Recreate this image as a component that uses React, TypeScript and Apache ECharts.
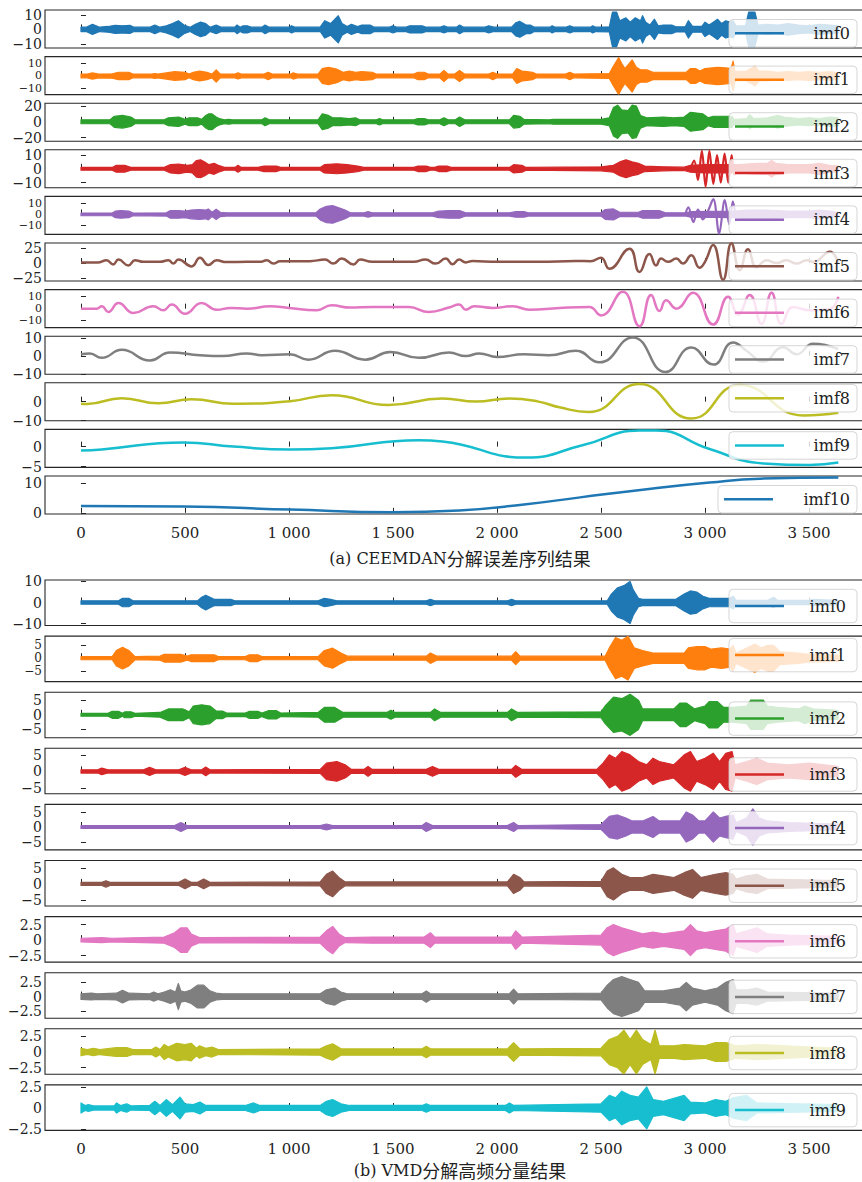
import React, { useEffect, useRef } from "react";
import * as echarts from "echarts";

const FONT = "'DejaVu Serif', 'Noto Sans CJK SC', serif";
const X_MIN = -173;
const X_MAX = 3800;
const X_TICKS = [0, 500, 1000, 1500, 2000, 2500, 3000, 3500];
const TAB = ["#1f77b4", "#ff7f0e", "#2ca02c", "#d62728", "#9467bd", "#8c564b", "#e377c2", "#7f7f7f", "#bcbd22", "#17becf", "#1f77b4"];

type Pts = [number, number][];

// ---------- (a) CEEMDAN: envelopes [x, amplitude] of dense components ----------
const A_IMF0: Pts = [[0,1.5],[25,1.5],[55,3.5],[90,1.5],[130,2],[165,2.8],[200,2.5],[235,2.8],[255,1.5],[330,1.5],[355,3],[380,1.5],[410,2.5],[440,4],[468,6],[495,3],[525,1.5],[550,3.5],[575,5],[600,4],[620,1.5],[650,3],[675,1.5],[740,1.5],[750,3],[765,1.5],[780,2.5],[800,2.5],[820,1.5],[870,1.5],[885,3],[905,1.5],[1000,1.5],[1012,2.5],[1030,1.5],[1150,1.5],[1172,6],[1200,4],[1237,9.4],[1255,4],[1280,2],[1300,3.5],[1330,2],[1350,3],[1390,3],[1410,1.5],[1480,1.5],[1500,2.5],[1520,1.5],[1560,1.5],[1580,2.5],[1640,2.5],[1660,1.5],[1725,1.5],[1745,2.5],[1765,1.5],[1805,1.5],[1820,3],[1840,1.5],[1940,1.5],[1960,2.5],[1985,1.5],[2070,1.5],[2090,4.5],[2110,5.5],[2140,3],[2160,3],[2180,1.5],[2255,1.5],[2265,2.5],[2280,1.5],[2330,1.5],[2350,2.5],[2370,1.5],[2450,1.5],[2460,2.5],[2475,1.5],[2540,1.8],[2555,12],[2575,12],[2590,6],[2620,8],[2640,5],[2665,8],[2690,6],[2700,9.5],[2715,5],[2735,3],[2757,7],[2775,2.5],[2800,3],[2840,3],[2860,1.8],[2905,1.8],[2920,6],[2940,2],[2985,2],[3000,5],[3020,3],[3040,5],[3060,7],[3080,4],[3100,6],[3120,5],[3135,6],[3150,2.5],[3195,2.5],[3210,12],[3240,12],[3255,3],[3300,3.5],[3350,3],[3400,4],[3450,3],[3500,2.5],[3550,3.5],[3600,3],[3640,2.5]];
const A_IMF1: Pts = [[0,1.5],[30,1.5],[55,2.5],[85,1.5],[150,1.8],[180,3],[230,3],[250,1.5],[340,1.5],[355,2],[370,1.5],[410,2.5],[450,3.5],[500,3],[520,1.5],[540,3],[570,4],[605,3],[630,1.5],[650,5],[670,1.5],[740,1.5],[755,2.5],[770,1.5],[880,1.5],[900,3],[920,1.5],[1010,1.5],[1020,2.5],[1040,1.5],[1140,1.5],[1160,6],[1190,7],[1230,5.5],[1260,3],[1290,4],[1320,3],[1350,3.5],[1400,3],[1420,1.5],[1600,1.5],[1620,3],[1650,3],[1670,1.5],[1725,1.5],[1745,4.5],[1765,1.5],[1795,1.5],[1820,4.5],[1845,1.5],[1960,1.5],[1980,3],[2000,1.5],[2075,1.5],[2095,6],[2120,4],[2145,3.5],[2170,3],[2190,1.5],[2330,1.5],[2350,3],[2370,1.5],[2540,2],[2560,8],[2585,15],[2600,10],[2615,6],[2650,13],[2670,7],[2690,5],[2720,5],[2750,3],[2800,3],[2850,3],[2910,3],[2930,6],[2955,6],[2975,4],[3000,6],[3060,7],[3100,6.5],[3125,6],[3135,12],[3145,3.5],[3200,4],[3240,8],[3260,4],[3300,4],[3350,3],[3400,3.5],[3450,3],[3500,3.5],[3550,3],[3600,3.5],[3640,2.5]];
const A_IMF2: Pts = [[0,2.5],[140,2.5],[160,7],[200,8],[240,6],[260,2.5],[400,2.5],[420,5],[470,6],[500,3],[520,5],[560,5],[580,3],[600,8],[615,10],[630,10],[650,6],[665,4],[690,2.5],[710,3],[730,2.5],[870,2.5],[885,5],[905,2.5],[1140,2.5],[1160,10],[1190,8],[1210,5],[1250,5],[1290,4],[1320,5],[1340,2.5],[1420,2.5],[1435,4],[1450,2.5],[1600,2.5],[1620,4],[1650,4],[1670,2.5],[1725,2.5],[1745,5],[1765,2.5],[1800,2.5],[1820,6],[1845,2.5],[2060,2.5],[2080,8],[2110,7],[2130,3],[2250,2.5],[2270,3],[2500,3],[2540,5],[2560,18],[2580,21],[2600,15],[2630,14],[2650,21],[2670,20],[2690,8],[2720,5],[2800,6],[2850,5],[2900,6],[2930,12],[2960,11],[2990,10],[3015,5],[3040,7],[3100,7],[3130,7],[3140,3],[3200,4],[3215,9],[3235,4],[3300,5],[3350,8],[3380,6],[3450,4],[3500,5],[3550,4],[3600,6],[3640,5]];
const A_IMF3: Pts = [[0,1],[150,1],[170,2.5],[210,2.5],[240,1],[400,1],[430,3],[470,3.5],[510,2.5],[535,3],[555,6],[575,6.5],[595,5],[615,3],[640,4],[660,2.5],[690,1],[740,1],[755,2.5],[770,1],[850,1],[880,2],[940,2],[960,1],[1150,1],[1170,3],[1230,3.6],[1280,3],[1330,2],[1360,1],[1600,1],[1620,2],[1660,2],[1680,1],[1700,1],[1720,2],[1760,2],[1780,1],[2060,1],[2080,3],[2120,2.5],[2140,1],[2500,1.5],[2560,2.5],[2590,5],[2620,6.5],[2650,5],[2680,4],[2710,2],[2800,1.5],[2900,1.2],[2930,2.5],[3000,3],[3140,3],[3160,3],[3250,4],[3300,4],[3320,6],[3340,4],[3400,3],[3500,3],[3550,4],[3600,2.5],[3640,2]];
const A_IMF3_OSC: Pts = [[2930,0],[2948,6],[2966,-8],[2985,13],[3003,-13],[3021,13],[3040,-11],[3058,10],[3076,-10],[3094,11],[3112,-10],[3128,10],[3140,-4],[3150,0]];
const A_IMF4: Pts = [[0,1.2],[150,1.2],[165,3],[190,3.5],[230,3],[250,1.2],[410,1.5],[430,3.5],[470,3.5],[500,3],[530,4],[570,4.5],[600,4],[612,5],[630,2],[650,4.7],[670,2],[700,1.5],[1130,1.5],[1150,5],[1180,7.5],[1210,8],[1240,6],[1270,4],[1295,1.5],[1360,1.5],[1380,2.5],[1400,1.5],[1690,1.5],[1720,3],[1770,3.5],[1820,3.5],[1850,1.5],[2060,1.5],[2090,2.5],[2130,2.5],[2150,1.5],[2500,1.5],[2520,4.5],[2560,5],[2590,2],[2680,2],[2700,3.5],[2780,3.5],[2810,1.5],[2910,1.5],[2930,2.5],[3140,3],[3200,4],[3300,4],[3400,3],[3500,3],[3550,4],[3600,3],[3640,2]];
const A_IMF4_OSC: Pts = [[2905,0],[2920,6.5],[2944,-7],[2966,4.5],[2990,-4.5],[3014,3],[3040,14],[3068,-17.5],[3095,13],[3117,-9],[3134,12],[3146,0]];
// (a) smooth components: [x, value] at turning points
const A_IMF5: Pts = [[0,1],[80,1],[123,4.5],[155,-2.3],[180,5.7],[228,-4],[260,4.5],[300,2],[380,2],[420,4.5],[444,-1],[468,6],[532,-5.7],[572,9],[612,-3.4],[652,4.5],[700,1.5],[800,2],[860,2],[893,4.5],[925,-1],[957,3],[1005,2.8],[1100,3],[1173,5.7],[1213,-1],[1253,7.4],[1310,-2.3],[1342,5.7],[1400,2],[1600,2],[1656,5.7],[1705,-1],[1753,7.4],[1786,-2],[1818,5.7],[1850,1],[1882,3.4],[2000,2],[2200,2],[2379,3.4],[2450,3],[2500,9],[2540,-9.7],[2637,24],[2685,-15],[2733,15],[2765,-4],[2789,7.4],[2822,2],[2862,7.4],[2894,-1],[2934,13],[2974,-8],[3000,2],[3039,30],[3087,-28],[3127,33],[3167,-12],[3207,23],[3248,-7],[3296,4.5],[3344,0],[3392,4.5],[3440,-1],[3489,4.5],[3521,2],[3601,19],[3640,0]];
const A_IMF6: Pts = [[0,0],[75,0],[100,2],[131,-2.8],[180,4.8],[252,-3.7],[348,2],[396,-1.4],[436,3.4],[500,-4.3],[580,4.8],[652,-0.9],[720,0.6],[800,0],[909,2],[1000,0.6],[1132,-1.4],[1205,2.8],[1294,0.9],[1400,1.4],[1576,1.4],[1673,-2.8],[1769,0.9],[1818,3.4],[1850,-0.9],[1890,2],[1980,0.6],[2076,2],[2156,-0.9],[2300,0.6],[2444,1.4],[2500,-5.7],[2605,14.2],[2685,-14.8],[2741,11.4],[2781,-2],[2813,7],[2862,0],[2942,13.4],[3039,-13.4],[3111,10],[3159,-5],[3215,11.4],[3272,-12.8],[3320,13.4],[3368,-12.8],[3424,1.4],[3505,-1.4],[3601,0],[3641,10]];
const A_IMF7: Pts = [[0,1],[43,1.5],[99,-1],[196,3.5],[332,-2.5],[428,2],[572,0.5],[680,0],[797,1.5],[870,0.5],[1005,1],[1092,-2],[1221,3],[1366,-2],[1487,2.3],[1624,-1],[1769,2],[1850,0],[1915,1.5],[2000,-0.5],[2130,1],[2250,0.5],[2379,3],[2492,-3.5],[2653,10.5],[2810,-9],[2934,4.8],[3040,-4.8],[3135,7.7],[3200,3],[3280,-3],[3376,5],[3440,1],[3520,7],[3640,4]];
const A_IMF8: Pts = [[0,-1.1],[30,-1.2],[196,1.8],[372,-0.9],[532,1.25],[732,-1.1],[1005,0.2],[1205,3.4],[1479,-1.8],[1737,1.6],[1898,0],[2060,1.6],[2200,0],[2300,-3],[2440,-5.5],[2685,9.3],[2934,-8.9],[3167,8.8],[3473,-7.3],[3641,-5.9]];
const A_IMF9: Pts = [[0,-1],[100,-0.7],[492,1.05],[732,0],[1005,-0.7],[1205,-0.4],[1624,1.6],[1737,1.3],[2140,-2.75],[2415,0.4],[2685,4],[2765,4],[3022,-0.6],[3280,-4.2],[3505,-4.6],[3641,-4]];
const A_IMF10: Pts = [[0,2.3],[492,2.1],[1005,1.1],[1495,0.2],[1818,0.8],[2140,2.9],[2400,5.2],[2700,7.8],[3022,10.2],[3264,11.5],[3641,11.9]];

const A_NAMES = ["imf0","imf1","imf2","imf3","imf4","imf5","imf6","imf7","imf8","imf9","imf10"];
const A_DATA = [A_IMF0, A_IMF1, A_IMF2, A_IMF3, A_IMF4, A_IMF5, A_IMF6, A_IMF7, A_IMF8, A_IMF9, A_IMF10];
const A_OSC: (Pts | null)[] = [null, null, null, A_IMF3_OSC, A_IMF4_OSC, null, null, null, null, null, null];
const A_KIND = ["env","env","env","env","env","wave","wave","wave","wave","wave","wave"];
const A_YLIM: [number, number][] = [[-12.9,13.4],[-15.1,15.7],[-24.6,23.5],[-13.8,13.8],[-18.3,16.5],[-30.1,33.5],[-15.9,16],[-10.2,11.2],[-10.1,9.9],[-5.2,4.3],[-0.4,12.4]];
const A_YTICKS = [[-10,0,10],[-10,0,10],[-20,0,20],[-10,0,10],[-10,0,10],[-25,0,25],[-10,0,10],[-10,0,10],[-10,0],[-5,0],[0,10]];

// ---------- (b) VMD: envelopes [x, amplitude] ----------
const B_IMF0: Pts = [[0,0.8],[180,0.8],[200,2],[230,2],[250,0.8],[560,0.8],[580,2.5],[600,3.5],[620,2.5],[640,1.5],[720,1.5],[740,0.8],[1140,0.8],[1170,2],[1200,1.5],[1230,0.8],[1660,0.8],[1680,1.5],[1700,0.8],[2050,0.8],[2070,1.5],[2090,0.8],[2530,0.8],[2550,4],[2580,7],[2610,8],[2640,10],[2655,6],[2680,2],[2700,1.5],[2860,1.5],[2900,4],[2930,5.5],[2960,5],[2990,3],[3020,2],[3120,2],[3135,3],[3150,1],[3300,1],[3330,2.5],[3350,1],[3500,1],[3520,1.5],[3640,1]];
const B_IMF1: Pts = [[0,0.6],[150,0.6],[170,3],[200,4.2],[230,3],[260,0.6],[380,0.8],[400,1.5],[480,1.5],[510,0.8],[530,1.3],[640,1.3],[660,0.6],[790,0.6],[810,1.3],[850,1.3],[870,0.6],[1140,0.6],[1170,3],[1210,3.9],[1250,2],[1280,0.8],[1660,0.8],[1680,2],[1710,0.8],[2070,0.8],[2090,2.5],[2110,0.8],[2520,0.8],[2540,4],[2570,8],[2600,7],[2630,8.5],[2660,4],[2700,3],[2750,2],[2900,2],[2920,4],[2960,4.5],[3000,4.5],[3030,3.5],[3080,4],[3120,3.5],[3135,5],[3150,2],[3200,4],[3240,5.5],[3270,4],[3300,5],[3330,5],[3360,2.5],[3450,2],[3500,1.5],[3640,1.2]];
const B_IMF2: Pts = [[0,0.5],[130,0.5],[150,1.2],[180,1.2],[200,0.5],[210,1],[240,1],[260,0.5],[380,0.8],[420,2],[490,2],[520,1],[540,3],[580,3.4],[620,3],[650,1.3],[680,1.3],[700,0.6],[790,0.6],[810,1.2],[850,1.2],[870,0.6],[900,1.4],[940,1.4],[960,0.6],[1140,0.8],[1170,2.5],[1220,2.5],[1260,0.8],[1470,0.8],[1490,1.5],[1510,0.8],[1680,0.8],[1700,2],[1730,0.8],[2050,0.8],[2070,2],[2100,0.8],[2500,1],[2520,3],[2560,6],[2600,5.5],[2640,7],[2680,5],[2700,2],[2850,2],[2880,4],[2910,4],[2950,2],[3000,3],[3020,4.5],[3060,4.5],[3090,2.5],[3130,2.5],[3200,3],[3220,5],[3280,5],[3300,3],[3350,2.5],[3450,2],[3480,3],[3520,2],[3640,1.5]];
const B_IMF3: Pts = [[0,0.5],[80,0.5],[100,1],[130,0.5],[300,0.5],[330,1.2],[360,0.5],[470,0.5],[500,1.2],[530,0.5],[580,0.5],[600,1.3],[620,0.5],[1150,0.6],[1180,2.5],[1230,3],[1270,2],[1300,0.6],[1360,0.6],[1380,1.5],[1400,0.6],[1660,0.6],[1690,1.5],[1720,0.6],[2070,0.6],[2090,1.8],[2120,0.6],[2480,0.6],[2510,2.5],[2540,5],[2570,4],[2600,6],[2640,5],[2680,3],[2720,2],[2750,4],[2780,3],[2850,2],[2900,5],[2930,6],[2960,3],[3000,4],[3040,5.5],[3070,3],[3100,5.5],[3130,6],[3145,2],[3200,3],[3250,4],[3300,2.5],[3400,2],[3500,2.5],[3640,1.5]];
const B_IMF4: Pts = [[0,0.5],[450,0.5],[480,1.5],[510,0.5],[1150,0.5],[1180,1],[1210,0.5],[1640,0.5],[1660,1.5],[1690,0.5],[2050,0.5],[2080,1.5],[2100,0.5],[2500,0.8],[2540,3.5],[2580,4],[2620,3],[2650,2],[2700,2],[2750,3.5],[2780,2],[2880,2],[2910,5],[2940,4],[2970,2],[3000,2],[3040,5],[3070,3],[3100,3.5],[3135,4],[3150,1.5],[3200,3],[3230,6],[3260,3],[3300,2],[3400,1.5],[3640,1]];
const B_IMF5: Pts = [[0,0.5],[100,0.5],[120,1],[140,0.5],[470,0.5],[500,1.5],[530,0.5],[560,0.5],[590,1.5],[620,0.5],[1150,0.6],[1180,3],[1210,4],[1240,2],[1270,0.6],[2050,0.6],[2080,3],[2110,2],[2130,0.6],[2500,0.8],[2530,4],[2560,5],[2600,3],[2640,2],[2700,2],[2750,3],[2800,2.5],[2850,2],[2900,3.5],[2940,4.5],[2980,2],[3050,3],[3100,3.5],[3135,3],[3150,1.5],[3200,2.5],[3250,3],[3300,1.5],[3640,1]];
const B_IMF6: Pts = [[0,0.3],[100,0.4],[150,0.3],[400,0.5],[450,1.2],[480,2],[510,2],[530,1],[570,0.4],[1150,0.5],[1180,1.5],[1210,2.2],[1240,1],[1270,0.4],[1400,0.5],[1650,0.5],[1680,1.2],[1700,0.5],[2070,0.5],[2090,1.5],[2120,0.5],[2500,0.8],[2530,2],[2560,2.5],[2600,2],[2650,1.5],[2700,1],[2750,1.3],[2800,1],[2900,1.5],[2930,2.5],[2960,1.5],[3000,1.2],[3050,1.5],[3100,1.8],[3135,2.5],[3150,1],[3200,1.5],[3250,2],[3300,1],[3400,0.8],[3640,0.6]];
const B_IMF7: Pts = [[0,0.5],[50,0.6],[80,0.5],[170,0.6],[200,1.1],[230,0.6],[330,0.5],[350,0.8],[370,0.5],[400,0.8],[430,1.2],[455,0.8],[468,2.3],[480,1],[500,0.8],[530,1.2],[560,2],[590,2],[620,1],[650,0.6],[680,0.5],[1150,0.5],[1180,1.2],[1220,1.5],[1250,0.8],[1280,0.5],[1640,0.5],[1660,1],[1680,0.5],[2060,0.5],[2080,1.3],[2100,0.5],[2500,0.6],[2530,2],[2560,3],[2600,3.5],[2640,3],[2680,2.5],[2710,1],[2800,1],[2880,1.5],[2910,2.5],[2940,1.5],[3000,1],[3060,1.5],[3100,2.5],[3135,3],[3150,1.2],[3200,1.2],[3250,1.5],[3300,0.8],[3640,0.6]];
const B_IMF8: Pts = [[0,0.6],[30,0.4],[60,0.6],[90,0.4],[170,0.7],[220,0.7],[250,0.4],[340,0.4],[360,0.8],[380,0.4],[400,1.2],[420,0.8],[460,1.4],[500,1.2],[530,1.4],[555,0.6],[570,1],[600,0.6],[630,0.8],[660,0.4],[1150,0.5],[1180,1],[1210,1.3],[1250,0.5],[1640,0.5],[1660,0.9],[1680,0.5],[2050,0.5],[2080,1.5],[2110,0.5],[2500,0.6],[2540,2],[2580,2.5],[2610,3.5],[2640,2],[2670,3.5],[2700,2],[2740,1.2],[2760,3.5],[2780,1],[2850,1],[2900,1.2],[3000,1],[3050,1.5],[3100,1.5],[3150,1],[3250,1.2],[3640,0.6]];
const B_IMF9: Pts = [[0,0.6],[20,0.3],[35,0.4],[60,0.25],[160,0.25],[171,0.6],[190,0.3],[220,0.5],[240,0.25],[330,0.3],[355,0.8],[380,0.3],[410,1],[440,0.4],[476,1.3],[500,0.5],[540,0.4],[572,0.7],[600,0.3],[790,0.3],[830,0.6],[860,0.3],[1150,0.3],[1180,0.8],[1210,1],[1250,0.5],[1290,0.3],[1640,0.3],[1660,0.5],[1680,0.3],[2040,0.3],[2060,0.6],[2080,0.3],[2500,0.5],[2540,1.5],[2570,1.2],[2600,2],[2640,1.5],[2680,1.3],[2720,2.5],[2750,1],[2800,0.8],[2900,1.5],[2930,0.7],[3000,0.6],[3050,1],[3100,0.8],[3135,1.2],[3200,1.5],[3250,0.6],[3640,0.4]];

const B_NAMES = ["imf0","imf1","imf2","imf3","imf4","imf5","imf6","imf7","imf8","imf9"];
const B_DATA = [B_IMF0, B_IMF1, B_IMF2, B_IMF3, B_IMF4, B_IMF5, B_IMF6, B_IMF7, B_IMF8, B_IMF9];
const B_YLIM: [number, number][] = [[-10.9,10.7],[-9.1,8.6],[-7.8,7.7],[-6.8,7],[-7.6,7.5],[-6.9,7.3],[-3.55,3.8],[-3.8,4.2],[-3.55,3.7],[-2.67,2.75]];
const B_YTICKS = [[-10,0,10],[-5,0,5],[-5,0,5],[-5,0,5],[-5,0,5],[-5,0,5],[-2.5,0,2.5],[-2.5,0,2.5],[-2.5,0,2.5],[-2.5,0,2.5]];

const TITLE_A = ["(a) CEEMDAN", "分解误差序列结果"];
const TITLE_B = ["(b) VMD", "分解高频分量结果"];

const fmtY = (v: number) => (v < 0 ? "\u2212" + String(Math.abs(v)) : String(v));
const fmtX = (v: number) => (v >= 1000 ? Math.floor(v / 1000) + " " + String(v % 1000).padStart(3, "0") : String(v));

function buildOption() {
  const grid: any[] = [];
  const xAxis: any[] = [];
  const yAxis: any[] = [];
  const series: any[] = [];
  const graphic: any[] = [];
  const LEFT = 45;
  const WIDTH = 826.4;
  const axisColor = "#262626";

  const addPlot = (
    idx: number, top: number, height: number, data: Pts, kind: string, color: string,
    ylim: [number, number], yticks: number[], showX: boolean, name: string,
    box: { x: number; y: number; w: number; h: number; textRight: number }, osc: Pts | null
  ) => {
    // shrink the tick labels where ticks sit closer than the text height
    const stepPx = ((yticks[1] - yticks[0]) * height) / (ylim[1] - ylim[0]);
    const fs = stepPx < 13.5 ? Math.max(11, Math.floor(stepPx - 0.5)) : 14;
    const labelStyle = { fontFamily: FONT, fontSize: fs, lineHeight: fs - 2, color: "#222", margin: 3, formatter: fmtY };

    grid.push({ left: LEFT, top, width: WIDTH, height, show: true, borderColor: axisColor, borderWidth: 1.1, backgroundColor: "transparent" });
    xAxis.push({
      type: "value", gridIndex: idx, min: X_MIN, max: X_MAX,
      axisLine: { show: false }, splitLine: { show: false },
      axisTick: { show: true, inside: true, length: 5, customValues: X_TICKS, lineStyle: { color: axisColor, width: 1 } },
      axisLabel: { show: showX, customValues: X_TICKS, formatter: fmtX, fontFamily: FONT, fontSize: 15, color: "#222", margin: 11 },
    });
    const yi = yAxis.length;
    yAxis.push({
      type: "value", gridIndex: idx, min: ylim[0], max: ylim[1], position: "left",
      axisLine: { show: false }, splitLine: { show: false },
      axisTick: { show: true, inside: true, length: 5, customValues: yticks, lineStyle: { color: axisColor, width: 1 } },
      axisLabel: { show: true, customValues: yticks.filter((t) => t !== 0), ...labelStyle },
    });
    yAxis.push({
      type: "value", gridIndex: idx, min: ylim[0], max: ylim[1], position: "left", offset: 0,
      axisLine: { show: false }, splitLine: { show: false }, axisTick: { show: false },
      axisLabel: { show: true, customValues: yticks.filter((t) => t === 0), ...labelStyle },
    });
    if (kind === "env") {
      const env = data;
      series.push({
        type: "custom", xAxisIndex: idx, yAxisIndex: yi, silent: true, clip: true,
        data: env, encode: { x: 0, y: 1 },
        renderItem: (params: any, api: any) => {
          if (params.dataIndex !== 0) return null;
          const pts: number[][] = [];
          for (let k = 0; k < env.length; k++) pts.push(api.coord([env[k][0], env[k][1]]));
          for (let k = env.length - 1; k >= 0; k--) pts.push(api.coord([env[k][0], -env[k][1]]));
          return { type: "polygon", shape: { points: pts }, style: { fill: color, stroke: color, lineWidth: 1.2, lineJoin: "round" } };
        },
      });
    } else {
      series.push({
        type: "line", xAxisIndex: idx, yAxisIndex: yi, symbol: "none", silent: true,
        smooth: 0.5, data, lineStyle: { color, width: 2.5 },
      });
    }
    if (osc) {
      series.push({
        type: "line", xAxisIndex: idx, yAxisIndex: yi, symbol: "none", silent: true,
        smooth: 0.35, data: osc, lineStyle: { color, width: 2.2 },
      });
    }
    graphic.push({
      type: "rect", z: 100, shape: { x: box.x, y: box.y, width: box.w, height: box.h, r: 4 },
      style: { fill: "rgba(255,255,255,0.8)", stroke: "rgba(204,204,204,0.8)", lineWidth: 1 },
    });
    const cy = box.y + box.h / 2;
    graphic.push({
      type: "line", z: 101, shape: { x1: box.x + 6, y1: cy, x2: box.x + 55, y2: cy },
      style: { stroke: color, lineWidth: 2.5 },
    });
    graphic.push({
      type: "text", z: 102, x: box.textRight, y: cy,
      style: { text: name, fontFamily: FONT, fontSize: 16, fill: "#222", textAlign: "right", textVerticalAlign: "middle" },
    });
  };

  const A_TOP0 = 10, A_STEP = 46.6, A_H = 38;
  for (let i = 0; i < A_NAMES.length; i++) {
    const top = A_TOP0 + i * A_STEP;
    let by = top + 9.5;
    if (i === 8) by = top + 1.7;
    if (i === 9) by = top + 2.3;
    const wide = i === 10;
    addPlot(i, top, A_H, A_DATA[i], A_KIND[i], TAB[i], A_YLIM[i], A_YTICKS[i], i === 10, A_NAMES[i],
      { x: wide ? 718 : 729, y: by, w: wide ? 139 : 128, h: 27.5, textRight: 850 }, A_OSC[i]);
  }
  const B_TOP0 = 580, B_STEP = 56.1, B_H = 45.5;
  const B_BOXOFF = [9.3, 2.3, 9.7, 9.5, 7, 8.5, 8, 7.5, 7.5, 8.5];
  for (let j = 0; j < B_NAMES.length; j++) {
    const idx = A_NAMES.length + j;
    const top = B_TOP0 + j * B_STEP;
    addPlot(idx, top, B_H, B_DATA[j], "env", TAB[j], B_YLIM[j], B_YTICKS[j], j === 9, B_NAMES[j],
      { x: 729, y: top + B_BOXOFF[j], w: 128, h: 33.4, textRight: 846 }, null);
  }

  const titleText = (t: string[], y: number) => ({
    type: "text", z: 100, x: 460, y,
    style: {
      text: "{s|" + t[0] + "}{c|" + t[1] + "}",
      textAlign: "center", textVerticalAlign: "middle",
      rich: {
        s: { fontFamily: "'DejaVu Serif', serif", fontSize: 16, fill: "#222" },
        c: { fontFamily: "'Noto Sans CJK SC', sans-serif", fontSize: 18, fill: "#222" },
      },
    },
  });
  graphic.push(titleText(TITLE_A, 558));
  graphic.push(titleText(TITLE_B, 1170));

  return { animation: false, backgroundColor: "#ffffff", grid, xAxis, yAxis, series, graphic };
}

export default function App() {
  const ref = useRef<HTMLDivElement>(null);
  useEffect(() => {
    if (!ref.current) return;
    const chart = echarts.init(ref.current, null, { renderer: "svg", width: 880, height: 1182 });
    chart.setOption(buildOption() as any);
    return () => chart.dispose();
  }, []);
  return <div ref={ref} style={{ position: "fixed", left: 0, top: 0, width: 880, height: 1182, background: "#fff" }} />;
}
